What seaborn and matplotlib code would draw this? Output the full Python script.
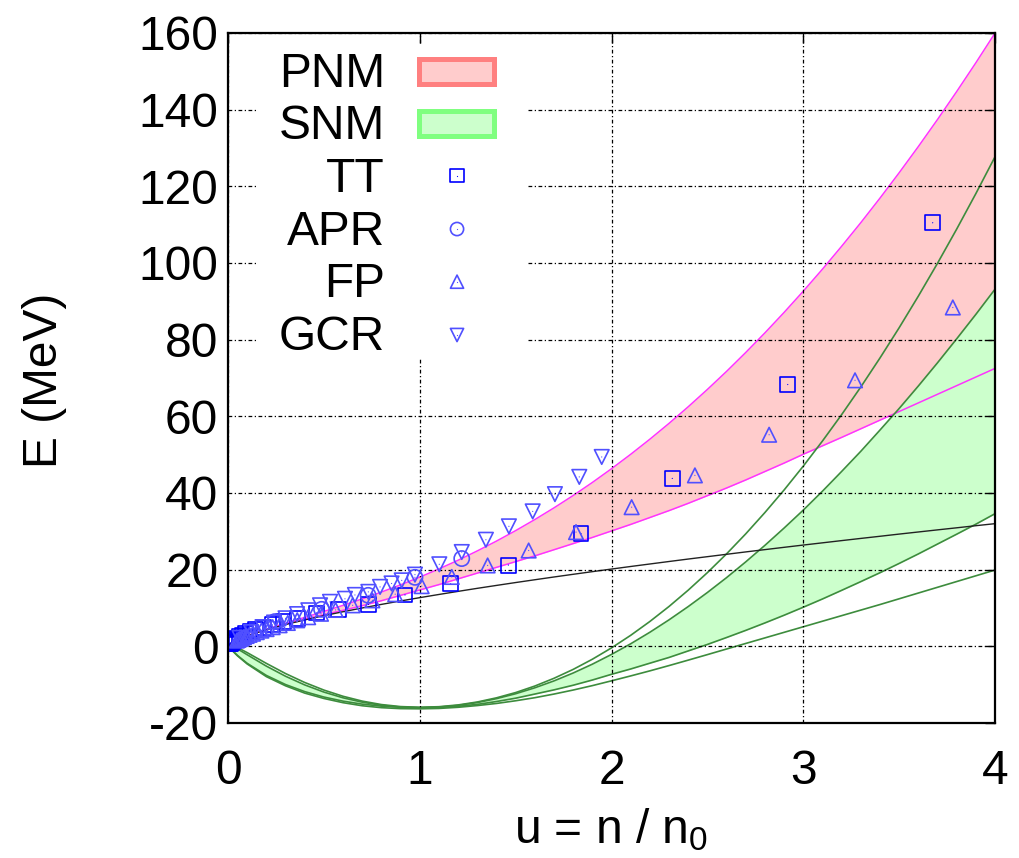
import matplotlib
matplotlib.use("Agg")
import matplotlib.pyplot as plt
import seaborn as sns
from matplotlib.patches import Rectangle

# ---- density grid (u = n / n0) for the model curves ----
U_GRID = [0, 0.02, 0.05, 0.1, 0.2, 0.3, 0.4, 0.5, 0.6, 0.7, 0.8, 0.9,
          1.0, 1.1, 1.2, 1.3, 1.4, 1.5, 1.6, 1.7, 1.8, 1.9, 2.0, 2.1, 2.2, 2.3, 2.4, 2.5,
          2.6, 2.7, 2.8, 2.9, 3.0, 3.1, 3.2, 3.3, 3.4, 3.5, 3.6, 3.7, 3.8, 3.9, 4.0]

# pure neutron matter band (MeV)
PNM_UPPER = [0, 0.94, 1.73, 2.76, 4.48, 6.03, 7.55, 9.10, 10.70, 12.37, 14.16, 16.04,
             18.05, 20.19, 22.46, 24.89, 27.45, 30.18, 33.07, 36.12, 39.34, 42.74, 46.33,
             50.09, 54.03, 58.16, 62.49, 67.01, 71.72, 76.65, 81.77, 87.10, 92.64, 98.38,
             104.35, 110.51, 116.91, 123.53, 130.36, 137.42, 144.71, 152.22, 159.97]
PNM_LOWER = [0, 0.94, 1.72, 2.74, 4.38, 5.78, 7.05, 8.25, 9.40, 10.60, 11.90, 13.30,
             14.70, 16.10, 17.60, 19.10, 20.60, 22.10, 23.60, 25.20, 26.80, 28.40, 30.10,
             31.80, 33.60, 35.40, 37.30, 39.30, 41.30, 43.40, 45.60, 47.80, 50.10, 52.30,
             54.50, 56.75, 59.00, 61.25, 63.50, 65.75, 68.00, 70.25, 72.50]
# free Fermi gas reference
FREE_GAS = [0, 0.94, 1.72, 2.74, 4.34, 5.69, 6.89, 8.00, 9.03, 10.01, 10.94, 11.84,
            12.70, 13.53, 14.34, 15.13, 15.89, 16.64, 17.37, 18.09, 18.79, 19.48, 20.16,
            20.83, 21.48, 22.13, 22.77, 23.39, 24.01, 24.63, 25.23, 25.83, 26.42, 27.00,
            27.58, 28.15, 28.71, 29.28, 29.83, 30.38, 30.92, 31.47, 32.00]

# symmetric nuclear matter curves (B and C bound the shaded band)
SNM_A = [0, 0.10, -0.32, -1.64, -4.45, -7.10, -9.43, -11.41, -13.03, -14.29, -15.19, -15.72,
         -15.90, -15.75, -15.29, -14.52, -13.44, -12.06, -10.36, -8.34, -6.02, -3.37, -0.41,
         2.87, 6.48, 10.40, 14.65, 19.22, 24.12, 29.34, 34.90, 40.78, 47.00, 53.55, 60.43,
         67.65, 75.21, 83.10, 91.34, 99.91, 108.83, 118.09, 127.70]
SNM_B = [0, 0.09, -0.68, -2.19, -5.16, -7.80, -10.06, -11.93, -13.43, -14.57, -15.37, -15.85,
         -16.00, -15.85, -15.40, -14.67, -13.65, -12.37, -10.82, -9.02, -6.96, -4.66, -2.11,
         0.66, 3.67, 6.91, 10.37, 14.04, 17.92, 22.03, 26.34, 30.85, 35.53, 40.46, 45.61,
         50.87, 56.41, 62.03, 67.90, 73.96, 80.21, 86.59, 93.16]
SNM_C = [0, -0.96, -2.41, -4.43, -7.59, -9.97, -11.81, -13.23, -14.30, -15.08, -15.61, -15.90,
         -16.00, -15.91, -15.65, -15.14, -14.40, -13.53, -12.45, -11.36, -10.15, -8.79, -7.30,
         -5.91, -4.40, -2.90, -1.20, 0.49, 2.30, 4.16, 6.10, 8.11, 10.20, 12.35, 14.60,
         16.88, 19.20, 21.62, 24.10, 26.68, 29.25, 31.86, 34.60]
SNM_D = [0, -1.00, -2.50, -4.60, -7.90, -10.30, -12.20, -13.60, -14.70, -15.50, -16.00, -16.25,
         -16.30, -16.20, -15.90, -15.45, -14.90, -14.20, -13.40, -12.45, -11.40, -10.25, -9.00,
         -7.72, -6.40, -5.02, -3.60, -2.16, -0.70, 0.75, 2.20, 3.65, 5.10, 6.55, 8.00,
         9.45, 10.90, 12.40, 13.90, 15.40, 16.90, 18.40, 19.90]

# ---- microscopic calculations ----
TT_U = [3.675, 2.919, 2.317, 1.841, 1.462, 1.161, 0.923, 0.732, 0.575, 0.462, 0.362, 0.290,
        0.230, 0.183, 0.145, 0.115, 0.092, 0.073, 0.058, 0.046, 0.036, 0.029, 0.023, 0.018,
        0.0145, 0.0115, 0.009, 0.0072]
TT_E = [110.5, 68.3, 43.8, 29.4, 21.2, 16.3, 13.4, 10.9, 9.6, 8.7, 7.2, 6.4, 5.6, 5.0, 4.3,
        3.8, 3.3, 2.9, 2.5, 2.1, 1.8, 1.5, 1.3, 1.1, 0.9, 0.8, 0.7, 0.6]

APR_U = [0.244, 0.488, 0.731, 0.975, 1.219]
APR_E = [6.45, 9.65, 13.3, 18.0, 22.9]

FP_U = [3.78, 3.27, 2.822, 2.435, 2.105, 1.815, 1.568, 1.354, 1.167, 1.01, 0.872, 0.753,
        0.650, 0.561, 0.485, 0.418, 0.361, 0.312, 0.269, 0.233, 0.201, 0.174, 0.150, 0.130,
        0.112, 0.097, 0.083, 0.072, 0.062, 0.054, 0.046]
FP_E = [88.4, 69.4, 55.2, 44.6, 36.3, 29.8, 25.0, 21.1, 18.1, 15.7, 13.6, 12.0, 10.7, 9.5,
        8.5, 7.6, 6.8, 6.1, 5.5, 5.0, 4.5, 4.1, 3.7, 3.3, 3.0, 2.7, 2.4, 2.1, 1.9, 1.7, 1.5]

GCR_U = [1.949, 1.832, 1.705, 1.589, 1.465, 1.345, 1.219, 1.102, 0.975, 0.906, 0.853, 0.793,
         0.732, 0.662, 0.610, 0.532, 0.480, 0.419, 0.360, 0.300, 0.240, 0.180, 0.120, 0.060]
GCR_E = [49.4, 44.2, 39.7, 35.2, 31.3, 27.8, 24.6, 21.4, 18.7, 17.2, 16.4, 15.5, 14.2, 13.4,
         12.4, 11.6, 10.7, 9.4, 8.4, 7.3, 6.2, 5.0, 3.7, 2.2]

X_TICKS = [0, 1, 2, 3, 4]
Y_TICKS = [-20, 0, 20, 40, 60, 80, 100, 120, 140, 160]
LEGEND_LABELS = ["PNM", "SNM", "TT", "APR", "FP", "GCR"]

# ---- style ----
sns.set_theme(style="white")
plt.rcParams["font.family"] = ["Liberation Sans", "DejaVu Sans"]
plt.rcParams["mathtext.fontset"] = "custom"
plt.rcParams["mathtext.rm"] = "Liberation Sans"
plt.rcParams["mathtext.default"] = "regular"

FS = 34.5
BLUE = "#0000ff"
BLUE_LIGHT = "#5050ff"

fig = plt.figure(figsize=(10.19, 8.58), dpi=100)
ax = fig.add_axes([228 / 1019, 1 - 723 / 858, 767 / 1019, 690 / 858])

# bands
ax.fill_between(U_GRID, PNM_LOWER, PNM_UPPER, color="#ffcccc", lw=0, zorder=1)
ax.fill_between(U_GRID, SNM_C, SNM_B, color="#ccffcc", lw=0, zorder=1)

# band edges and reference curves
for vals in (PNM_UPPER, PNM_LOWER):
    sns.lineplot(x=U_GRID, y=vals, ax=ax, color="#ff33ff", lw=1.1, sort=False,
                 estimator=None, zorder=2)
for vals in (SNM_A, SNM_B, SNM_C, SNM_D):
    sns.lineplot(x=U_GRID, y=vals, ax=ax, color="#3d8c3d", lw=1.2, sort=False,
                 estimator=None, zorder=2)
sns.lineplot(x=U_GRID, y=FREE_GAS, ax=ax, color="#222222", lw=1.0, sort=False,
             estimator=None, zorder=2)

# data points: open markers with a centre dot
def open_points(xs, ys, marker, color, size):
    sns.scatterplot(x=xs, y=ys, ax=ax, marker=marker, s=size, color=color,
                    facecolor="none", edgecolor=color, linewidth=1.2, zorder=4)
    sns.scatterplot(x=xs, y=ys, ax=ax, marker=".", s=3, color=color,
                    edgecolor="none", linewidth=0, zorder=4)

open_points(TT_U, TT_E, "s", BLUE, 115)
open_points(APR_U, APR_E, "o", BLUE_LIGHT, 120)
open_points(FP_U, FP_E, "^", BLUE_LIGHT, 110)
open_points(GCR_U, GCR_E, "v", BLUE_LIGHT, 110)

# axes, ticks, grid
ax.set_xlim(0, 4)
ax.set_ylim(-20, 160)
ax.set_xticks(X_TICKS)
ax.set_yticks(Y_TICKS)
ax.set_xticklabels([str(t) for t in X_TICKS])
ax.set_yticklabels([str(t) for t in Y_TICKS])
ax.set_axisbelow(False)
ax.grid(True, color="black", linestyle=(0, (3, 2, 1, 2)), linewidth=0.9)
ax.tick_params(axis="both", direction="in", length=7, width=1.0, colors="black",
               top=True, right=True, labelsize=FS)
ax.tick_params(axis="x", pad=19)
ax.tick_params(axis="y", pad=7)
for sp in ax.spines.values():
    sp.set_color("black")
    sp.set_linewidth(1.6)
    sp.set_zorder(5)

ax.set_xlabel("u = n / n$_0$", fontsize=FS, color="black")
ax.xaxis.label.set_va("baseline")
ax.xaxis.set_label_coords(0.5, -0.174)
ax.set_ylabel("E (MeV)", fontsize=FS, color="black")
ax.yaxis.label.set_va("center")
ax.yaxis.set_label_coords(-0.2386, 0.497)

# key box (opaque, hides grid behind it)
ax.add_patch(Rectangle((0.156, 75.1), 1.403, 81.4, facecolor="white", lw=0, zorder=2.6))

tr = ax.transAxes
y0 = 0.9222
dy = 0.07638
for i, lab in enumerate(LEGEND_LABELS):
    ax.text(0.2047, y0 - i * dy, lab, transform=tr, ha="right", va="baseline",
            fontsize=FS, color="black", zorder=6)

ax.add_patch(Rectangle((0.2490, 0.9268), 0.0978, 0.0362, transform=tr,
                       facecolor="#ffcccc", edgecolor="#ff8080", lw=3.6, zorder=6))
ax.add_patch(Rectangle((0.2490, 0.8510), 0.0978, 0.0362, transform=tr,
                       facecolor="#ccffcc", edgecolor="#80ff80", lw=3.6, zorder=6))

key_marks = [("s", BLUE), ("o", BLUE_LIGHT), ("^", BLUE_LIGHT), ("v", BLUE_LIGHT)]
key_y = [0.7932, 0.7159, 0.6396, 0.5623]
for (m, c), ky in zip(key_marks, key_y):
    ax.scatter([0.2986], [ky], transform=tr, marker=m, s=90, facecolor="none",
               edgecolor=c, linewidth=1.2, zorder=7, clip_on=False)
    ax.scatter([0.2986], [ky], transform=tr, marker=".", s=3, color=c,
               linewidth=0, zorder=7, clip_on=False)

fig.savefig("out.png", dpi=100)
